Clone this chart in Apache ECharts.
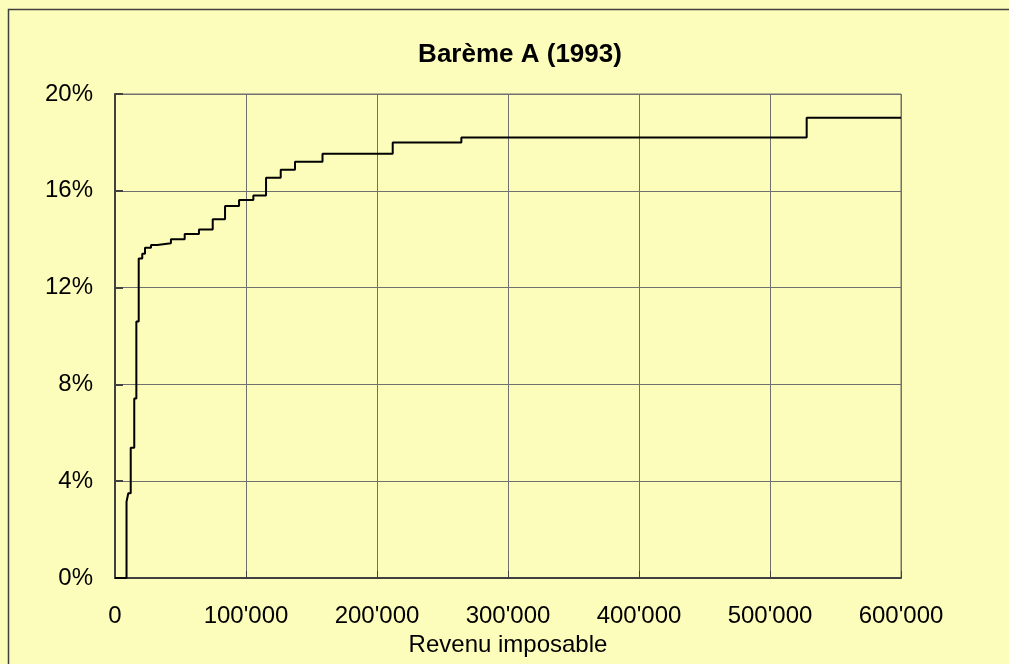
<!DOCTYPE html>
<html>
<head>
<meta charset="utf-8">
<script src="https://cdn.jsdelivr.net/npm/echarts@6/dist/echarts.min.js"></script>
<style>
html,body{margin:0;padding:0;background:#FCFCBB;}
#c{width:1009px;height:664px;}
</style>
</head>
<body>
<div id="c"></div>
<script>
// Threshold income (CHF) at which the rate steps up, and the new rate (%)
var incomes = [0, 8800, 10150, 12000, 14700, 16300, 18100, 20800, 22900, 27500, 32300, 42700, 53200, 64100, 74600, 84000, 94700, 105600, 115300, 126500, 137400, 158400, 212000, 264400, 528000, 600000];
var rates   = [0, 3.15, 3.5, 5.38, 7.42, 10.6, 13.2, 13.4, 13.65, 13.76, 13.83, 14.0, 14.22, 14.4, 14.82, 15.37, 15.62, 15.81, 16.54, 16.87, 17.2, 17.53, 18.0, 18.2, 19.02, 19.02];
var titleText = 'Barème A (1993)';
var xName = 'Revenu imposable';

var data = incomes.map(function(x, i){ return [x, rates[i]]; });

var chart = echarts.init(document.getElementById('c'));
var font = 'Liberation Sans, Arial, sans-serif';
chart.setOption({
  backgroundColor: '#FCFCBB',
  animation: false,
  title: {
    text: titleText,
    left: 515, top: 37, textAlign: 'center',
    textStyle: {fontFamily: font, fontWeight: 'bold', fontSize: 26, color: '#000'}
  },
  graphic: [{
    type: 'rect', silent: true,
    shape: {x: 8.5, y: 9.5, width: 1100, height: 1000},
    style: {fill: 'none', stroke: '#404040', lineWidth: 1.5}
  }],
  grid: {left: 115, right: 108, top: 94, bottom: 86, show: true, borderColor: '#707070', borderWidth: 1},
  xAxis: {
    type: 'value', min: 0, max: 600000, interval: 100000,
    name: xName, nameLocation: 'middle', nameGap: 52,
    nameTextStyle: {fontFamily: font, fontSize: 24, color: '#000'},
    axisLine: {show: true, lineStyle: {color: '#404040', width: 2}},
    axisTick: {show: true, inside: true, length: 7, lineStyle: {color: '#404040'}},
    splitLine: {show: true, lineStyle: {color: '#707070', width: 1}},
    axisLabel: {
      fontFamily: font, fontSize: 24, color: '#000', margin: 26,
      formatter: function(v){ if (v === 0) return '0'; return String(v/1000) + "'000"; }
    }
  },
  yAxis: {
    type: 'value', min: 0, max: 20, interval: 4,
    axisLine: {show: true, lineStyle: {color: '#404040', width: 2}},
    axisTick: {show: true, inside: true, length: 8, lineStyle: {color: '#404040', width: 2}},
    splitLine: {show: true, lineStyle: {color: '#707070', width: 1}},
    axisLabel: {fontFamily: font, fontSize: 24, color: '#000', margin: 22, formatter: '{value}%'}
  },
  series: [{
    type: 'line', step: 'end', data: data, symbol: 'none',
    lineStyle: {color: '#000', width: 2}
  }]
});
</script>
</body>
</html>
